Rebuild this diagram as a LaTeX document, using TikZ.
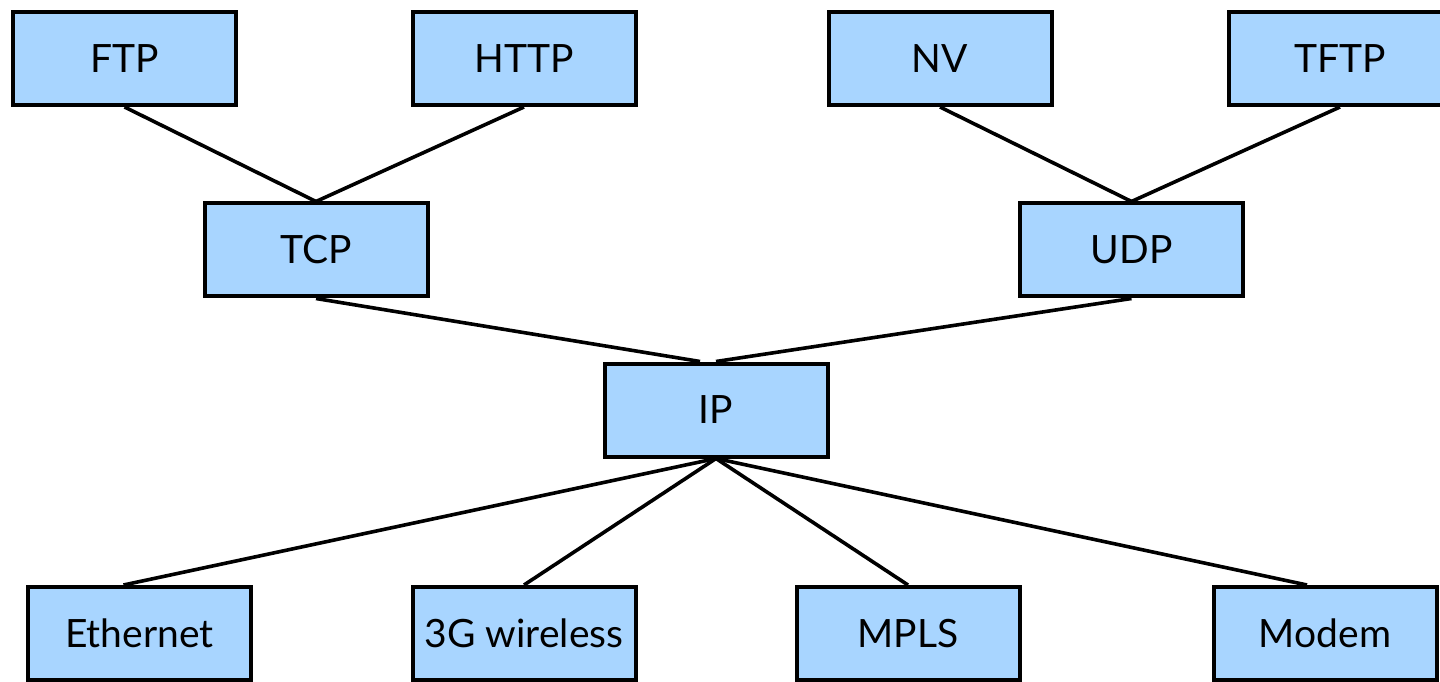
\documentclass[tikz,border=0pt]{standalone}
\usepackage{fontspec}
\setmainfont{Lato}
\usetikzlibrary{positioning}

\definecolor{protofill}{RGB}{168,213,255}

\tikzset{
  proto/.style={draw=black, line width=2pt, fill=protofill,
    minimum width=111.5pt, minimum height=46.5pt, inner sep=0pt,
    font=\fontsize{19.5}{23}\selectfont},
  link/.style={line width=1.8pt}
}

\begin{document}
\begin{tikzpicture}
  \useasboundingbox (0,0) rectangle (720pt,340.5pt);
  % application protocols (top row)
  \node[proto] (ftp) at (62.25pt,311.25pt) {FTP};
  \node[proto, right=86.25pt of ftp]  (http) {HTTP};
  \node[proto, right=94.5pt of http]  (nv)   {NV};
  \node[proto, right=86.5pt of nv]    (tftp) {TFTP};
  % transport protocols
  \node[proto] (tcp) at (158pt,215.5pt) {TCP};
  \node[proto, right=294.25pt of tcp] (udp)  {UDP};
  % network layer
  \node[proto] (ip) at (358pt,135.5pt) {IP};
  % link technologies (bottom row)
  \node[proto] (eth) at (69.75pt,23.75pt) {Ethernet};
  \node[proto, right=78.75pt of eth]  (wl)    {3G wireless};
  \node[proto, right=78.5pt of wl]    (mpls)  {MPLS};
  \node[proto, right=95pt of mpls]    (modem) {Modem};
  % links between layers
  \draw[link] (ftp.south)  -- (tcp.north);
  \draw[link] (http.south) -- (tcp.north);
  \draw[link] (nv.south)   -- (udp.north);
  \draw[link] (tftp.south) -- (udp.north);
  \draw[link] (tcp.south)  -- ([xshift=-8pt]ip.north);
  \draw[link] (udp.south)  -- (ip.north);
  \draw[link] (ip.south)   -- ([xshift=-8pt]eth.north);
  \draw[link] (ip.south)   -- (wl.north);
  \draw[link] (ip.south)   -- (mpls.north);
  \draw[link] (ip.south)   -- ([xshift=-9pt]modem.north);
\end{tikzpicture}
\end{document}
